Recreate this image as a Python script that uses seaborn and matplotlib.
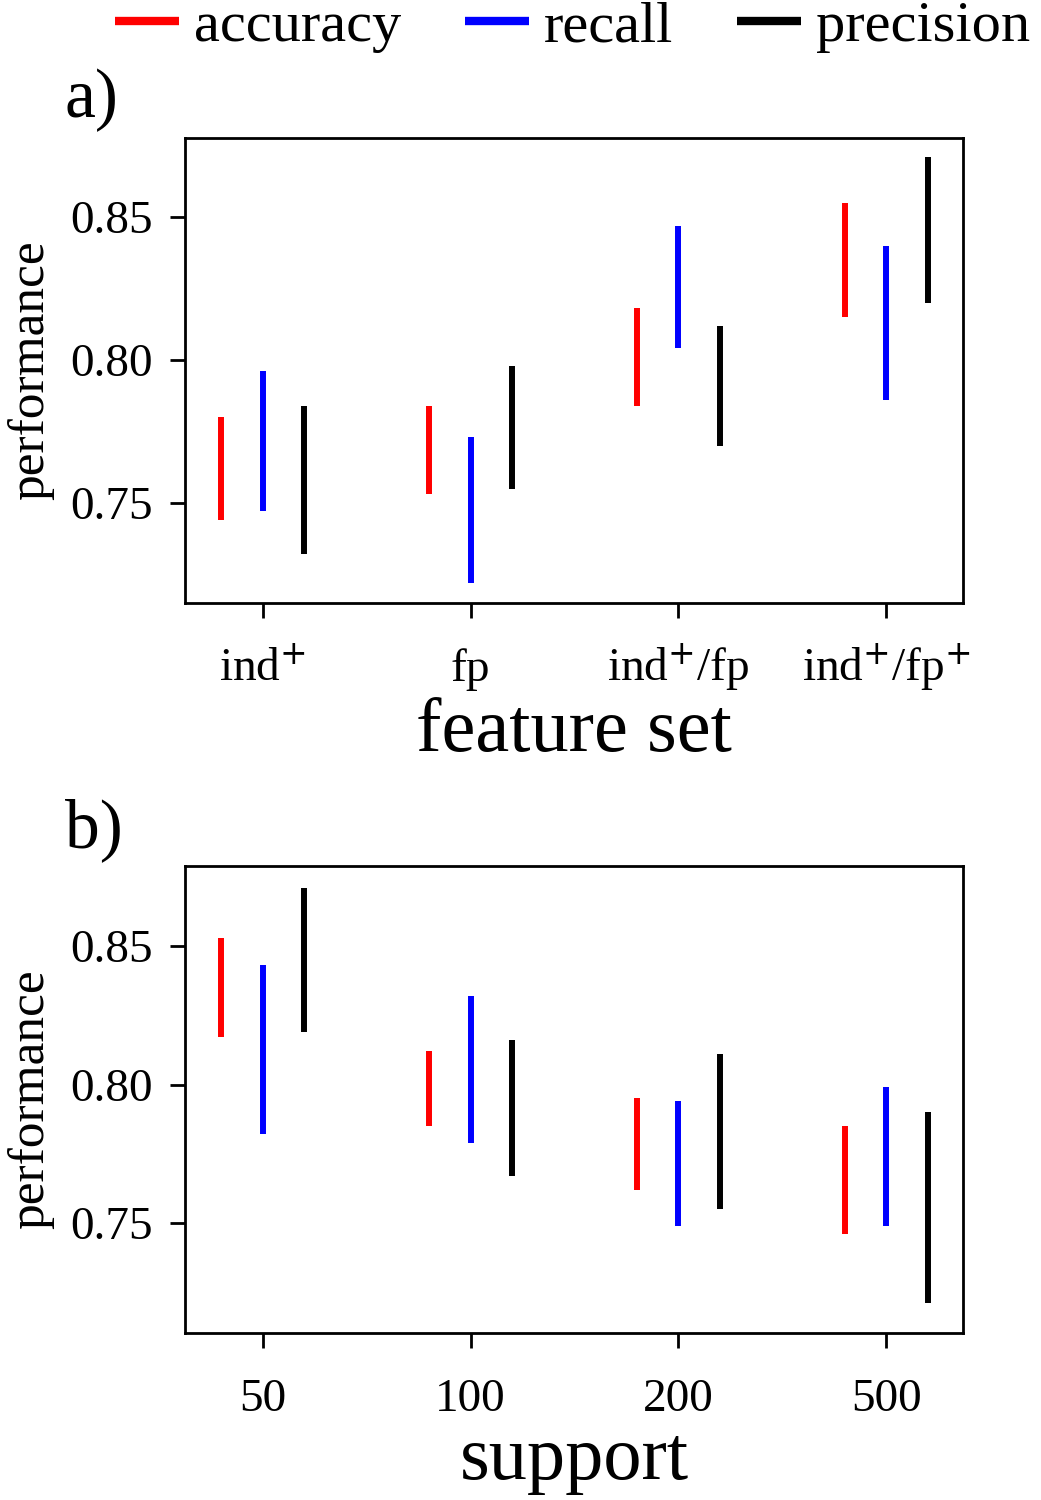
import pandas as pd
import numpy as np
import seaborn as sns
import matplotlib.pyplot as plt
from matplotlib.lines import Line2D

# Ranges (low, high) of each metric
feature_sets = ["ind$^{+}$", "fp", "ind$^{+}$/fp", "ind$^{+}$/fp$^{+}$"]
acc_a_lo = [0.744, 0.753, 0.784, 0.815]
acc_a_hi = [0.780, 0.784, 0.818, 0.855]
rec_a_lo = [0.747, 0.722, 0.804, 0.786]
rec_a_hi = [0.796, 0.773, 0.847, 0.840]
pre_a_lo = [0.732, 0.755, 0.770, 0.820]
pre_a_hi = [0.784, 0.798, 0.812, 0.871]

supports = ["50", "100", "200", "500"]
acc_b_lo = [0.817, 0.785, 0.762, 0.746]
acc_b_hi = [0.853, 0.812, 0.795, 0.785]
rec_b_lo = [0.782, 0.779, 0.749, 0.749]
rec_b_hi = [0.843, 0.832, 0.794, 0.799]
pre_b_lo = [0.819, 0.767, 0.755, 0.721]
pre_b_hi = [0.871, 0.816, 0.811, 0.790]

metrics = ["accuracy", "recall", "precision"]
colors = {"accuracy": "red", "recall": "blue", "precision": "black"}


def long_table(cats, ranges):
    rows = []
    for metric, (lo, hi) in zip(metrics, ranges):
        for c, l, h in zip(cats, lo, hi):
            rows.append({"cat": c, "metric": metric, "value": l})
            rows.append({"cat": c, "metric": metric, "value": h})
    return pd.DataFrame(rows)


df_a = long_table(feature_sets, [(acc_a_lo, acc_a_hi), (rec_a_lo, rec_a_hi), (pre_a_lo, pre_a_hi)])
df_b = long_table(supports, [(acc_b_lo, acc_b_hi), (rec_b_lo, rec_b_hi), (pre_b_lo, pre_b_hi)])

sns.set_theme(style="ticks")
plt.rcParams['font.family'] = ['Liberation Serif', 'DejaVu Serif']
plt.rcParams['mathtext.fontset'] = 'custom'
plt.rcParams['mathtext.rm'] = 'DejaVu Serif'
plt.rcParams['mathtext.it'] = 'DejaVu Serif:italic'
plt.rcParams['lines.solid_capstyle'] = 'butt'
for k in ['text.color', 'axes.labelcolor', 'xtick.color', 'ytick.color']:
    plt.rcParams[k] = 'black'

fig = plt.figure(figsize=(10.41, 15), dpi=100)
ax_a = fig.add_axes([0.1777, 0.598, 0.7473, 0.310])
ax_b = fig.add_axes([0.1777, 0.1113, 0.7473, 0.3114])

panels = [
    (ax_a, df_a, feature_sets, "feature set", (0.715, 0.8776), "a)", 1 - 100 / 1500),
    (ax_b, df_b, supports, "support", (0.7103, 0.8789), "b)", 1 - 830 / 1500),
]

for ax, df, cats, xlabel, ylim, tag, tag_y in panels:
    sns.pointplot(
        data=df, x="cat", y="value", hue="metric", order=cats,
        hue_order=metrics, palette=colors, errorbar=("pi", 100),
        dodge=0.4, markers="None", linestyles="none",
        err_kws={"linewidth": 4.3}, capsize=0, legend=False, ax=ax,
    )
    ax.set_xlim(-0.375, 3.37)
    ax.set_ylim(*ylim)
    ax.set_yticks([0.75, 0.80, 0.85])
    ax.set_yticklabels(["0.75", "0.80", "0.85"])
    ax.tick_params(axis="both", labelsize=34, length=11, width=2, direction="out", pad=12)
    # baseline-align x tick labels so superscripts don't push them down
    ax.tick_params(axis="x", pad=45)
    for lab in ax.get_xticklabels():
        lab.set_verticalalignment("baseline")
    for s in ax.spines.values():
        s.set_linewidth(2)
        s.set_color("black")
    ax.set_xlabel(xlabel, fontsize=55, labelpad=4)
    ax.set_ylabel("performance", fontsize=37, labelpad=12)
    fig.text(0.062, tag_y, tag, fontsize=50, ha="left", va="center")

handles = [Line2D([0], [0], color=colors[m], lw=6) for m in metrics]
fig.legend(handles, metrics, loc="center", bbox_to_anchor=(0.55, 0.982), ncol=3,
           frameon=False, fontsize=42, handlelength=1.1, handletextpad=0.25,
           columnspacing=1.1, borderpad=0)

fig.savefig("out.png", dpi=100)
plt.close()
